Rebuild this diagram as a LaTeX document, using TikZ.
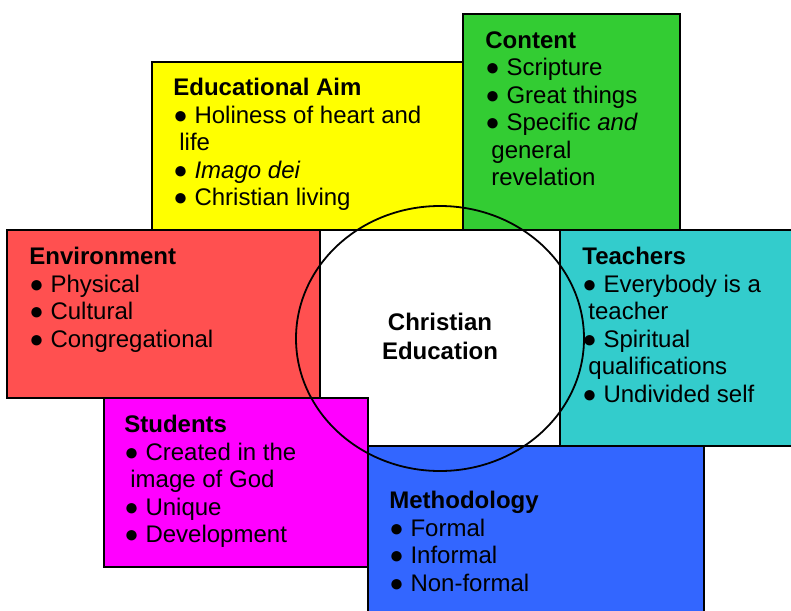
\documentclass[tikz,border=0pt]{standalone}
\usepackage{fontspec}
\setmainfont{Liberation Sans}

\definecolor{aimyellow}{RGB}{255,255,0}
\definecolor{contentgreen}{RGB}{51,204,51}
\definecolor{envred}{RGB}{255,80,80}
\definecolor{teachteal}{RGB}{51,204,204}
\definecolor{studmagenta}{RGB}{255,0,255}
\definecolor{methblue}{RGB}{51,102,255}

\begin{document}
\begin{tikzpicture}[x=0.5pt, y=-0.5pt,
box/.style={draw=black, line width=0.9pt},
core/.style={align=center, inner sep=0pt, font=\fontsize{12}{14.5}\selectfont\bfseries}]
\tikzstyle{item}=[anchor=north west, inner sep=0pt, align=left, font=\fontsize{12}{13.75}\selectfont]
\path[use as bounding box, clip] (0,0) rectangle (791,610);
\fill[white] (0,0) rectangle (791,610);

%Boxes
\draw[box, fill=aimyellow] (152,62) rectangle (464,230);
\draw[box, fill=contentgreen] (463,14) rectangle (680,230);
\draw[box, fill=envred] (7,230) rectangle (320,398);
\draw[box, fill=teachteal] (560,230) rectangle (800,446);
\draw[box, fill=studmagenta] (104,398) rectangle (368,567);
\draw[box, fill=methblue] (368,446) rectangle (704,620);

%Circle
\draw[line width=0.9pt] (440,338.5) ellipse [x radius=72pt, y radius=66.25pt];
\node[core] (ce) at (440,336) {Christian\\Education};

%Lists
\node[item] (aim) at (173,78) {\textbf{Educational Aim}\\● Holiness of heart and\\\hspace*{3pt}life\\● \textit{Imago dei}\\● Christian living};
\node[item] (content) at (485,31) {\textbf{Content}\\● Scripture\\● Great things\\● Specific \textit{and}\\\hspace*{3pt}general\\\hspace*{3pt}revelation};
\node[item] (env) at (29,247) {\textbf{Environment}\\● Physical\\● Cultural\\● Congregational};
\node[item] (teach) at (582,247) {\textbf{Teachers}\\● Everybody is a\\\hspace*{3pt}teacher\\● Spiritual\\\hspace*{3pt}qualifications\\● Undivided self};
\node[item] (stud) at (124,415) {\textbf{Students}\\● Created in the\\\hspace*{3pt}image of God\\● Unique\\● Development};
\node[item] (meth) at (389,491) {\textbf{Methodology}\\● Formal\\● Informal\\● Non-formal};
\end{tikzpicture}
\end{document}
